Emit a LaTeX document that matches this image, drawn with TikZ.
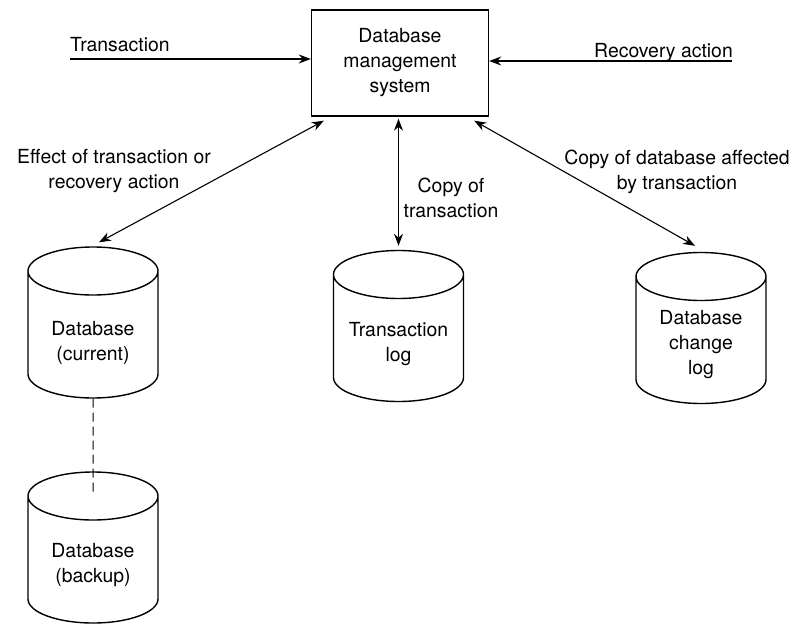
\documentclass[tikz,border=0pt]{standalone}
\usepackage{fontspec}
\setmainfont{TeX Gyre Heros}
\usetikzlibrary{shapes.geometric,arrows.meta}

\newcommand{\drumbody}{\hbox to 128pt{\hfil}}

\tikzset{
  store/.style={draw, line width=1.4pt, cylinder, shape border rotate=90, aspect=0.375,
    minimum width=130pt, minimum height=151pt, anchor=shape center, inner sep=0pt},
  flow/.style={line width=1.1pt, -{Stealth[length=12pt,width=9pt]}},
  both/.style={line width=1.1pt, {Stealth[length=12pt,width=9pt]}-{Stealth[length=12pt,width=9pt]}},
  txt/.style={align=center, inner sep=0pt}
}

\begin{document}
\begin{tikzpicture}[x=1pt,y=-1pt,font=\fontsize{19.4}{25}\selectfont]
\useasboundingbox (0,0) rectangle (799,626);

\node[draw, line width=1.4pt, minimum width=177pt, minimum height=106pt, align=center] (dbms) at (400,63) {Database\\management\\system};

% the four stores
\node[store] (cur) at (93,322.5) {\drumbody};
\node[store] (bak) at (93,547.5) {\drumbody};
\node[store] (tlog) at (398.5,326) {\drumbody};
\node[store] (clog) at (701,328) {\drumbody};
\node[txt] (curtxt) at ([yshift=-20pt]cur.shape center) {Database\\(current)};
\node[txt] (baktxt) at ([yshift=-18pt]bak.shape center) {Database\\(backup)};
\node[txt] (tlogtxt) at ([yshift=-18pt]tlog.shape center) {Transaction\\log};
\node[txt] (clogtxt) at ([yshift=-17pt]clog.shape center) {Database\\change\\log};

% inputs to the dbms
\coordinate (txin) at (70,59);
\coordinate (rcin) at (732,61);
\draw[flow] (txin) -- (txin -| dbms.west);
\draw[flow] (rcin) -- (rcin -| dbms.east);
\node[txt, anchor=base west] (txlbl) at (70,52) {Transaction};
\node[txt, anchor=base east] (rclbl) at (733,57) {Recovery action};

% dbms to the stores
\draw[both] ([xshift=13pt,yshift=-4pt]dbms.south west) -- ([xshift=6pt,yshift=4pt]cur.north);
\draw[both, shorten <=2pt, shorten >=4pt] (tlog.north |- dbms.south) -- (tlog.north);
\draw[both] ([xshift=-15pt,yshift=-4pt]dbms.south east) -- ([xshift=-6pt,yshift=6pt]clog.north);
\draw[line width=1pt, dash pattern=on 9pt off 5pt] (cur.south) -- ([yshift=-23pt]bak.north);

\node[txt] (efflbl) at (114,171) {Effect of transaction or\\recovery action};
\node[txt] (cpylbl) at (451,198) {Copy of\\transaction};
\node[txt] (chglbl) at (677,172) {Copy of database affected\\by transaction};
\end{tikzpicture}
\end{document}
